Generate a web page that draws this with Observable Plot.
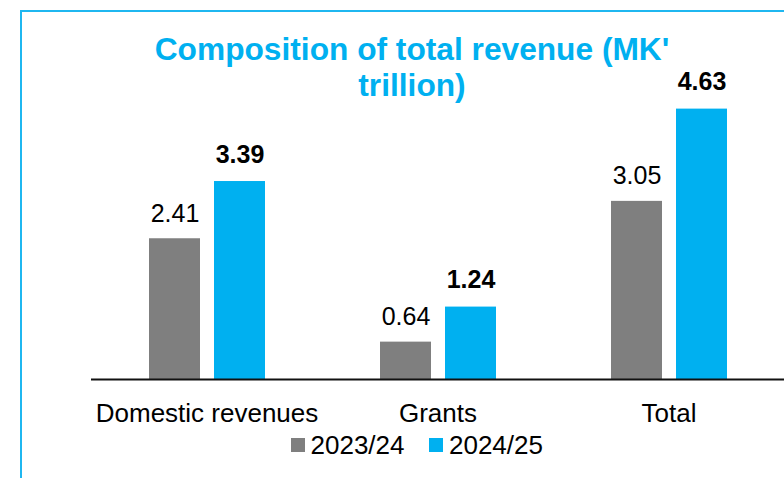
<!DOCTYPE html>
<html>
<head>
<meta charset="utf-8">
<script src="https://cdn.jsdelivr.net/npm/d3@7"></script>
<script src="https://cdn.jsdelivr.net/npm/@observablehq/plot@0.6"></script>
<style>
  html, body { margin: 0; padding: 0; background: #fff; }
  #wrap { position: relative; width: 784px; height: 478px; overflow: hidden; font-family: "Liberation Sans", Arial, sans-serif; }
  #chart { position: absolute; left: 0; top: 0; }
  #frame { position: absolute; left: 20px; top: 10px; width: 900px; height: 600px; border-left: 2px solid #1fb7f0; border-top: 2px solid #1fb7f0; z-index: 2; pointer-events: none; }
  #title { position: absolute; left: 112px; width: 600px; top: 30.5px; text-align: center; font-weight: bold; font-size: 31.7px; line-height: 36.5px; color: #00B0F0; z-index: 3; }
  #legend { position: absolute; left: 291px; top: 432px; height: 26px; display: flex; align-items: center; font-size: 26px; line-height: 26px; color: #000; z-index: 3; }
  .sw { width: 14px; height: 14px; margin-right: 5.5px; }
  .item { display: flex; align-items: center; margin-right: 25px; }
</style>
</head>
<body>
<div id="wrap">
  <div id="chart"></div>
  <div id="frame"></div>
  <div id="title"></div>
  <div id="legend"></div>
</div>
<script>
const titleLines = ["Composition of total revenue (MK'", "trillion)"];
const categories = ["Domestic revenues", "Grants", "Total"];
const years = ["2023/24", "2024/25"];
const values2023 = [2.41, 0.64, 3.05];
const values2024 = [3.39, 1.24, 4.63];
const colors = ["#7F7F7F", "#00B0F0"];

const seriesValues = [values2023, values2024];
const data = [];
categories.forEach((c, i) => {
  years.forEach((y, j) => {
    data.push({category: c, year: y, value: seriesValues[j][i]});
  });
});

const plot = Plot.plot({
  width: 784,
  height: 478,
  marginLeft: 91,
  marginRight: 0,
  marginTop: 87,
  marginBottom: 99,
  style: {fontFamily: "'Liberation Sans', Arial, sans-serif", background: "transparent", overflow: "visible"},
  fx: {domain: categories, padding: 0},
  x: {domain: years, paddingInner: 0.22, paddingOuter: 0.864, axis: null},
  y: {domain: [0, 5], axis: null},
  color: {domain: years, range: colors},
  marks: [
    Plot.barY(data, {fx: "category", x: "year", y: "value", fill: "year"}),
    Plot.ruleY([0], {stroke: "#111", strokeWidth: 2}),
    Plot.text(data.filter(d => d.year === years[0]), {
      fx: "category", x: "year", y: "value", text: d => d.value.toFixed(2),
      lineAnchor: "bottom", dy: -17, fontSize: 25, fill: "#000"
    }),
    Plot.text(data.filter(d => d.year === years[1]), {
      fx: "category", x: "year", y: "value", text: d => d.value.toFixed(2),
      lineAnchor: "bottom", dy: -19, fontSize: 25, fontWeight: "bold", fill: "#000"
    }),
    Plot.axisFx({anchor: "bottom", tickSize: 0, tickPadding: 24.5, fontSize: 26, fill: "#000", label: null})
  ]
});
document.getElementById("chart").appendChild(plot);

const title = document.getElementById("title");
titleLines.forEach(t => {
  const d = document.createElement("div");
  d.textContent = t;
  title.appendChild(d);
});

const legend = document.getElementById("legend");
years.forEach((y, i) => {
  const item = document.createElement("div");
  item.className = "item";
  const sw = document.createElement("div");
  sw.className = "sw";
  sw.style.background = colors[i];
  const lab = document.createElement("span");
  lab.textContent = y;
  item.appendChild(sw);
  item.appendChild(lab);
  legend.appendChild(item);
});
</script>
</body>
</html>
